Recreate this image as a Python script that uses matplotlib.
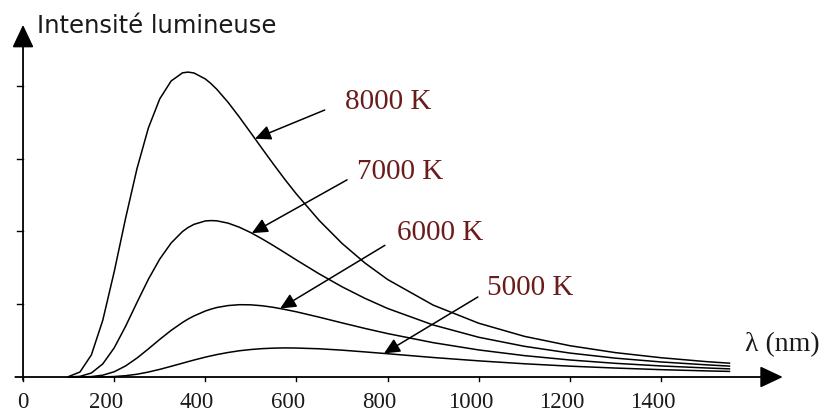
import numpy as np
import matplotlib
matplotlib.use("Agg")
import matplotlib.pyplot as plt

# longueurs d'onde (nm) et intensités
wavelengths = [100, 125, 150, 175, 200, 225, 250, 275, 300, 325, 350, 362, 375, 400,
               412, 425, 450, 475, 500, 525, 550, 575, 600, 650, 700, 750, 800, 900,
               1000, 1100, 1200, 1300, 1400, 1500, 1550]
i_8000 = [0.006, 0.069, 0.304, 0.780, 1.445, 2.180, 2.863, 3.422, 3.823, 4.069,
          4.181, 4.191, 4.179, 4.097, 4.035, 3.956, 3.775, 3.570, 3.354, 3.136,
          2.921, 2.712, 2.514, 2.151, 1.836, 1.568, 1.340, 0.988, 0.739, 0.559,
          0.430, 0.335, 0.265, 0.211, 0.190]
i_7000 = [0.0004, 0.009, 0.055, 0.180, 0.400, 0.696, 1.024, 1.343, 1.621, 1.842,
          2.000, 2.054, 2.098, 2.145, 2.150, 2.147, 2.115, 2.058, 1.984, 1.897,
          1.804, 1.707, 1.608, 1.417, 1.240, 1.082, 0.942, 0.715, 0.546, 0.422,
          0.329, 0.259, 0.207, 0.167, 0.150]
i_6000 = [0.0, 0.0006, 0.006, 0.025, 0.072, 0.152, 0.260, 0.386, 0.517, 0.641,
          0.750, 0.796, 0.839, 0.907, 0.932, 0.955, 0.982, 0.994, 0.992, 0.979,
          0.957, 0.928, 0.896, 0.822, 0.744, 0.668, 0.597, 0.472, 0.372, 0.294,
          0.234, 0.188, 0.152, 0.124, 0.112]
i_5000 = [0.0, 0.0, 0.0002, 0.0016, 0.0066, 0.018, 0.038, 0.068, 0.105, 0.147,
          0.190, 0.211, 0.233, 0.273, 0.290, 0.308, 0.337, 0.361, 0.378, 0.390,
          0.397, 0.400, 0.398, 0.388, 0.369, 0.345, 0.320, 0.268, 0.222, 0.182,
          0.149, 0.123, 0.101, 0.084, 0.077]
temp_labels = ["8000 K", "7000 K", "6000 K", "5000 K"]
x_ticks = [0, 200, 400, 600, 800, 1000, 1200, 1400]
y_ticks = [1, 2, 3, 4]

fig = plt.figure(figsize=(8.32, 4.12), dpi=100)
ax = fig.add_axes([0, 0, 1, 1])
ax.set_xlim(-50.5, 1775)
ax.set_ylim(-0.481, 5.182)
ax.axis('off')

serif = ['Liberation Serif', 'DejaVu Serif']
label_col = '#6a1b1b'

# courbes
series = [i_8000, i_7000, i_6000, i_5000]
for s in series:
    ax.plot(wavelengths, s, color='black', lw=1.1, solid_joinstyle='round')

# axes avec flèches
big_arrow = dict(arrowstyle='-|>,head_length=0.7,head_width=0.33', color='black',
                 lw=1.3, mutation_scale=20, shrinkA=0, shrinkB=0)
ax.annotate('', xy=(1667, 0), xytext=(-17, 0), arrowprops=big_arrow)
ax.annotate('', xy=(0, 4.84), xytext=(0, -0.04), arrowprops=big_arrow)

for t in y_ticks:
    ax.plot([-13, 0], [t, t], color='black', lw=1.0)
for t in x_ticks:
    ax.plot([t, t], [0, -0.05], color='black', lw=1.0)
    ax.text(t - 18 if t > 0 else t, -0.345, str(t), ha='center', va='center',
            fontsize=16.5, family=serif, color='#1a1a1a')

ax.text(31, 4.73, "Intensité lumineuse", ha='left', va='baseline',
        fontsize=17.5, family=['DejaVu Sans'], color='#1a1a1a')
ax.text(1584, 0.45, "λ (nm)", ha='left', va='center',
        fontsize=20, family=serif, color='#1a1a1a')

# étiquettes des températures et flèches
label_pos = [(706, 3.78), (733, 2.82), (820, 1.98), (1018, 1.22)]
tail_pos = [(662, 3.67), (711, 2.71), (794, 1.81), (998, 1.10)]
tip_lambda = [509, 502, 564, 792]
small_arrow = dict(arrowstyle='-|>,head_length=0.6,head_width=0.28', color='black',
                   lw=1.1, mutation_scale=16, shrinkA=0, shrinkB=0)
for s, lab, lp, tp, tl in zip(series, temp_labels, label_pos, tail_pos, tip_lambda):
    tip = (tl, np.interp(tl, wavelengths, s))
    ax.annotate('', xy=tip, xytext=tp, arrowprops=small_arrow)
    ax.text(lp[0], lp[1], lab, ha='left', va='center', fontsize=21,
            family=serif, color=label_col)

fig.savefig('out.png', dpi=100)
